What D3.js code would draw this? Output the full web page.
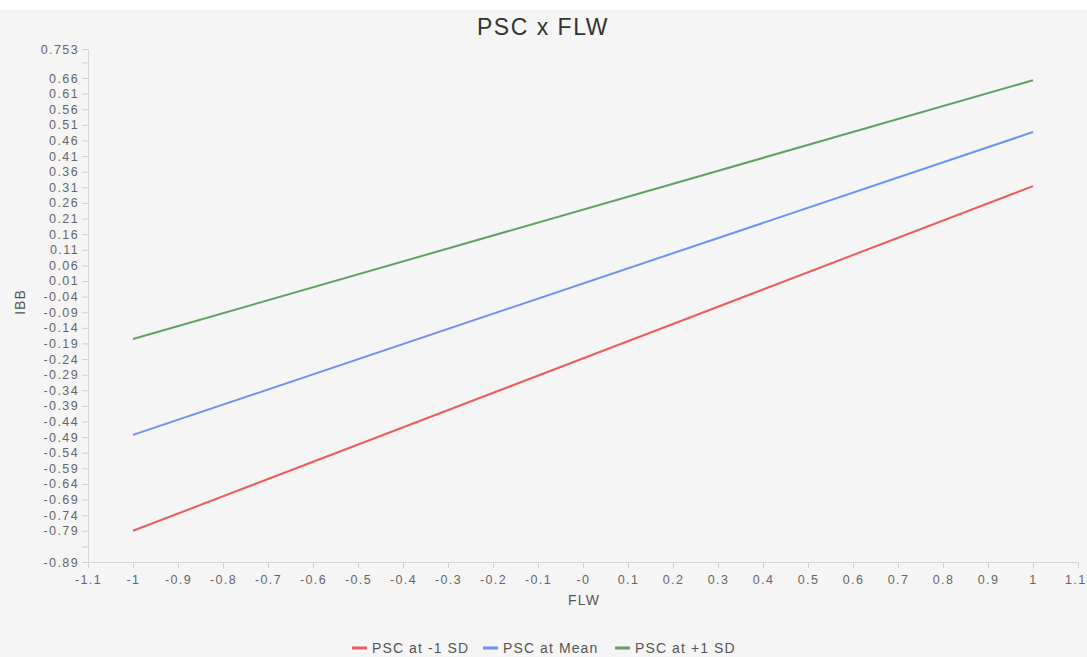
<!DOCTYPE html>
<html>
<head>
<meta charset="utf-8">
<script src="https://cdn.jsdelivr.net/npm/d3@7"></script>
<style>
  body { margin: 0; background: #fff; font-family: "Liberation Sans", Arial, sans-serif; }
</style>
</head>
<body>
<div id="chart"></div>
<script>
// data
const seriesNames = ["PSC at -1 SD", "PSC at Mean", "PSC at +1 SD"];
const seriesColors = ["#ef5b5b", "#7090f2", "#62a063"];
const flw = [-1, 1];
const lowSD = [-0.79, 0.314];
const meanVals = [-0.483, 0.487];
const highSD = [-0.176, 0.653];

const xTicks = [-1.1, -1, -0.9, -0.8, -0.7, -0.6, -0.5, -0.4, -0.3, -0.2, -0.1, 0,
                0.1, 0.2, 0.3, 0.4, 0.5, 0.6, 0.7, 0.8, 0.9, 1, 1.1];
const xTickLabels = ["-1.1", "-1", "-0.9", "-0.8", "-0.7", "-0.6", "-0.5", "-0.4", "-0.3", "-0.2", "-0.1", "-0",
                     "0.1", "0.2", "0.3", "0.4", "0.5", "0.6", "0.7", "0.8", "0.9", "1", "1.1"];
const yTicks = [-0.89, -0.84, -0.79, -0.74, -0.69, -0.64, -0.59, -0.54, -0.49, -0.44, -0.39, -0.34,
                -0.29, -0.24, -0.19, -0.14, -0.09, -0.04, 0.01, 0.06, 0.11, 0.16, 0.21, 0.26,
                0.31, 0.36, 0.41, 0.46, 0.51, 0.56, 0.61, 0.66, 0.71, 0.753];
const yTickLabels = ["-0.89", "", "-0.79", "-0.74", "-0.69", "-0.64", "-0.59", "-0.54", "-0.49", "-0.44", "-0.39", "-0.34",
                     "-0.29", "-0.24", "-0.19", "-0.14", "-0.09", "-0.04", "0.01", "0.06", "0.11", "0.16", "0.21", "0.26",
                     "0.31", "0.36", "0.41", "0.46", "0.51", "0.56", "0.61", "0.66", "", "0.753"];

const width = 1087, height = 657;
const margin = { top: 49, right: 9, bottom: 95, left: 88 };

const svg = d3.select("#chart").append("svg")
  .attr("width", width)
  .attr("height", height);

svg.append("rect")
  .attr("x", 0).attr("y", 10)
  .attr("width", width).attr("height", height - 10)
  .attr("fill", "#f5f5f5");

const x = d3.scaleLinear().domain([-1.1, 1.1]).range([margin.left, width - margin.right]);
const y = d3.scaleLinear().domain([-0.89, 0.753]).range([height - margin.bottom, margin.top]);

// title
svg.append("text")
  .attr("x", 543).attr("y", 35)
  .attr("text-anchor", "middle")
  .attr("font-size", 23)
  .attr("letter-spacing", 1.5)
  .attr("fill", "#333")
  .text("PSC x FLW");

// x axis
const xAxis = svg.append("g")
  .attr("transform", "translate(0," + y(-0.89) + ")")
  .call(d3.axisBottom(x).tickValues(xTicks).tickSize(6).tickPadding(7)
    .tickFormat((d, i) => xTickLabels[i]));

// y axis
const yAxis = svg.append("g")
  .attr("transform", "translate(" + x(-1.1) + ",0)")
  .call(d3.axisLeft(y).tickValues(yTicks).tickSize(6).tickPadding(3)
    .tickFormat((d, i) => yTickLabels[i]));

[xAxis, yAxis].forEach(function (g) {
  g.select(".domain").attr("stroke", "#d6d6d6");
  g.selectAll(".tick line").attr("stroke", "#d0d0d0");
  g.selectAll(".tick text").attr("fill", "#666").attr("font-size", 12.5)
    .attr("letter-spacing", 1.4)
    .attr("font-family", "Liberation Sans, Arial, sans-serif");
});

// last x label sits against the right edge, nudge it in
xAxis.selectAll(".tick text")
  .filter((d, i) => i === xTicks.length - 1)
  .attr("text-anchor", "end")
  .attr("x", 8);

// axis titles
svg.append("text")
  .attr("x", 584).attr("y", 605)
  .attr("text-anchor", "middle")
  .attr("font-size", 14)
  .attr("letter-spacing", 1.2)
  .attr("fill", "#555")
  .text("FLW");

svg.append("text")
  .attr("transform", "translate(25,302) rotate(-90)")
  .attr("text-anchor", "middle")
  .attr("font-size", 14)
  .attr("letter-spacing", 1)
  .attr("fill", "#555")
  .text("IBB");

// lines
const series = [lowSD, meanVals, highSD];
const line = d3.line()
  .x((d, i) => x(flw[i]))
  .y(d => y(d));

svg.selectAll(".series")
  .data(series)
  .enter()
  .append("path")
  .attr("class", "series")
  .attr("d", d => line(d))
  .attr("fill", "none")
  .attr("stroke", (d, i) => seriesColors[i])
  .attr("stroke-width", 2);

// legend
const legendX = [352, 483, 615];
const legend = svg.selectAll(".legend")
  .data(seriesNames)
  .enter()
  .append("g")
  .attr("class", "legend")
  .attr("transform", (d, i) => "translate(" + legendX[i] + ",648)");

legend.append("line")
  .attr("x1", 0).attr("x2", 15)
  .attr("stroke", (d, i) => seriesColors[i])
  .attr("stroke-width", 3);

legend.append("text")
  .attr("x", 20).attr("dy", "0.35em")
  .attr("font-size", 14)
  .attr("letter-spacing", 1.1)
  .attr("fill", "#555")
  .text(d => d);
</script>
</body>
</html>
